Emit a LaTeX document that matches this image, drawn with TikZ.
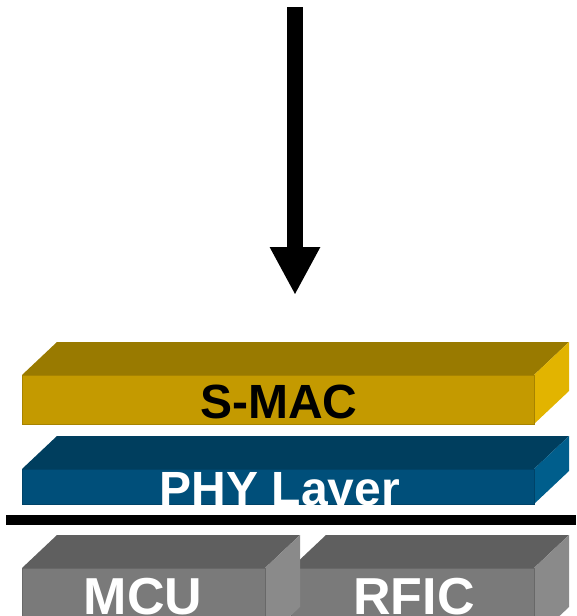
\documentclass[tikz,border=0pt]{standalone}
\usepackage{fontspec}
\setmainfont{Liberation Sans}
\usetikzlibrary{arrows.meta}
\definecolor{smacF}{RGB}{196,154,0}
\definecolor{smacT}{RGB}{153,122,0}
\definecolor{smacR}{RGB}{226,180,0}
\definecolor{phyF}{RGB}{0,79,122}
\definecolor{phyT}{RGB}{0,62,94}
\definecolor{phyR}{RGB}{0,94,140}
\definecolor{grF}{RGB}{122,122,122}
\definecolor{grT}{RGB}{95,95,95}
\definecolor{grR}{RGB}{138,138,138}
\newcommand{\slab}[7]{% x1,y1,x2,y2,front,top,right
  \fill[#6] (#1,#2) -- ++(35,-33) -- (#3+35,#2-33) -- (#3,#2) -- cycle;
  \fill[#7] (#3,#2) -- (#3+35,#2-33) -- (#3+35,#4-33) -- (#3,#4) -- cycle;
  \fill[#5] (#1,#2) rectangle (#3,#4);
  \draw[#5!85!black, line width=0.8pt] (#1,#2) rectangle (#3,#4);
}
\begin{document}
\begin{tikzpicture}[x=1pt,y=-1pt,
  lbl/.style={font=\fontsize{48}{48}\selectfont\bfseries, inner sep=0pt, anchor=base},
  lblbig/.style={font=\fontsize{52}{52}\selectfont\bfseries, inner sep=0pt, anchor=base}]
\useasboundingbox (0,0) rectangle (576,616);
% slabs
\slab{22}{375}{534}{424}{smacF}{smacT}{smacR}
\slab{22}{469}{534}{504}{phyF}{phyT}{phyR}
\slab{291}{568}{534}{640}{grF}{grT}{grR}
\slab{22}{568}{265}{640}{grF}{grT}{grR}
% labels
\node[lbl, text=black] (smac) at (279,418) {S-MAC};
\node[lbl, text=white] (phy) at (280,505) {PHY Layer};
\node[lblbig, text=white] (mcu) at (143,614) {MCU};
\node[lblbig, text=white] (rfic) at (414,614) {RFIC};
% separator
\coordinate (sepL) at (6,520);
\coordinate (sepR) at (576,520);
\draw[line width=10pt] (sepL) -- (sepR);
% arrow
\coordinate (src) at (295,7);
\coordinate (tip) at (295,295);
\draw[line width=16pt, -{Triangle[width=47pt,length=48pt]}] (src) -- (tip);
\end{tikzpicture}
\end{document}
